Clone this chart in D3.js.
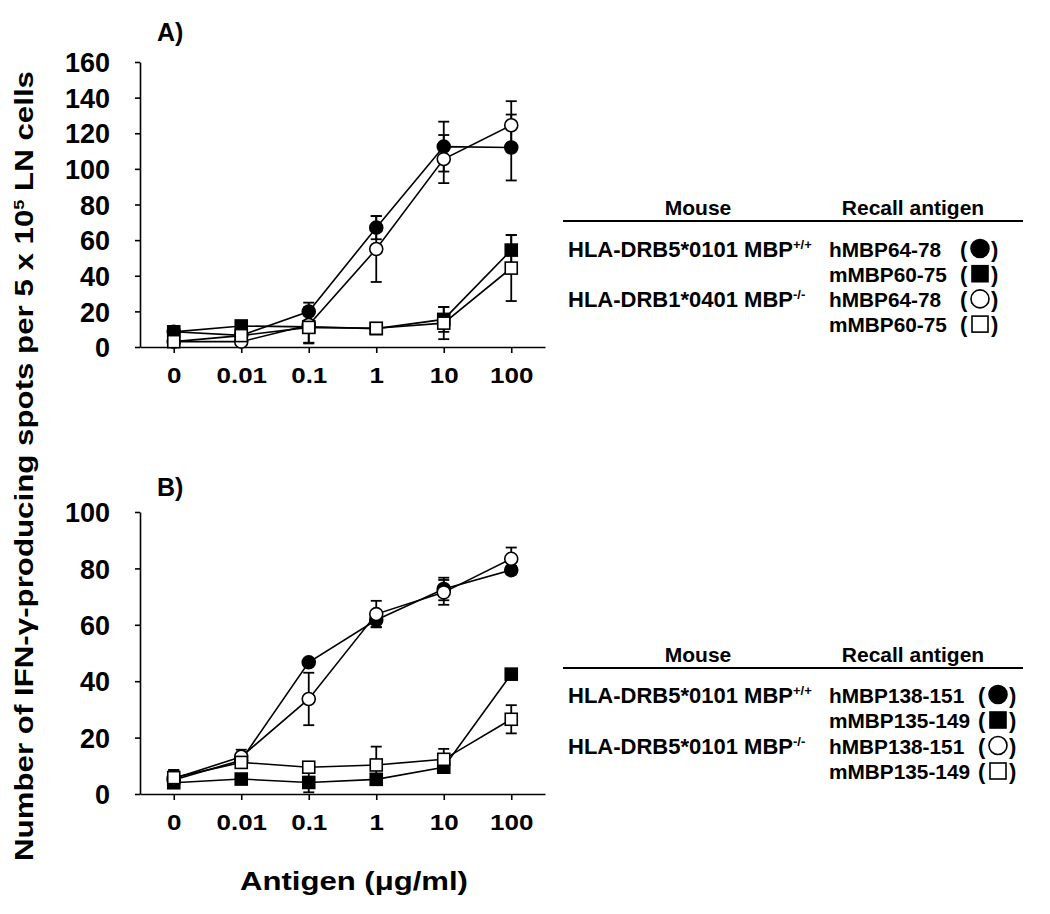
<!DOCTYPE html>
<html><head><meta charset="utf-8">
<script src="https://cdn.jsdelivr.net/npm/d3@7"></script>
<style>
body{margin:0;background:#fff}
text{font-family:"Liberation Sans",Arial,sans-serif;font-weight:bold;fill:#000}
</style>
</head><body>
<svg id="c" width="1050" height="914"></svg>
<script>
// ---------- data ----------
const doses = ["0","0.01","0.1","1","10","100"];
const yTicksA = [0,20,40,60,80,100,120,140,160];
const yTicksB = [0,20,40,60,80,100];

// Panel A (hMBP64-78 / mMBP60-75)
const aHumWT    = [8.6, 6.5, 19.9, 67, 112.5, 112];
const aHumWTErr = [0, 0, 5, 6.5, 14, 18.5];
const aMusWT    = [8.5, 11.8, 11.3, 10.3, 15.5, 54.4];
const aMusWTErr = [0, 0, 0, 3, 7, 8.5];
const aHumKO    = [3, 3, 12.4, 55, 105.5, 124.5];
const aHumKOErr = [0, 0, 10, 18.5, 13.5, 13.5];
const aMusKO    = [3, 6.4, 11, 10.5, 13.4, 44.3];
const aMusKOErr = [0, 0, 9, 0, 9, 18.5];

// Panel B (hMBP138-151 / mMBP135-149)
const bHumWT    = [5, 12, 46.7, 61.7, 72.7, 79.4];
const bHumWTErr = [0, 1.5, 0, 2.5, 4, 1.5];
const bMusWT    = [4, 5.3, 4.1, 5.2, 9.5, 42.5];
const bMusWTErr = [0, 1.5, 3.5, 1, 0, 0];
const bHumKO    = [5.5, 13.2, 33.7, 63.8, 71.5, 83.4];
const bHumKOErr = [3, 2.5, 9.3, 4.7, 4.4, 4];
const bMusKO    = [5.8, 11.2, 9.5, 10.3, 12.3, 26.5];
const bMusKOErr = [2.7, 2, 1, 6.5, 3.7, 5];

const legendAMice = [["HLA-DRB5*0101 MBP","+/+"], null, ["HLA-DRB1*0401 MBP","-/-"], null];
const legendAAntigens = ["hMBP64-78","mMBP60-75","hMBP64-78","mMBP60-75"];
const legendBMice = [["HLA-DRB5*0101 MBP","+/+"], null, ["HLA-DRB5*0101 MBP","-/-"], null];
const legendBAntigens = ["hMBP138-151","mMBP135-149","hMBP138-151","mMBP135-149"];
const markerKinds = ["filledCircle","filledSquare","openCircle","openSquare"];

// ---------- drawing ----------
const svg = d3.select("#c");
const x = d3.scalePoint().domain(doses).range([140, 545]).padding(0.5);

function marker(g, kind, cx, cy, size) {
  const filled = kind.startsWith("filled");
  if (kind.endsWith("Circle")) {
    g.append("circle").attr("cx", cx).attr("cy", cy).attr("r", size/2)
      .attr("fill", filled ? "#000" : "#fff").attr("stroke", "#000").attr("stroke-width", 1.6);
  } else {
    g.append("rect").attr("x", cx - size/2).attr("y", cy - size/2)
      .attr("width", size).attr("height", size)
      .attr("fill", filled ? "#000" : "#fff").attr("stroke", "#000").attr("stroke-width", 1.6);
  }
}

function panel(opts) {
  const y = d3.scaleLinear().domain([0, opts.max]).range([opts.y0, opts.y1]);
  const g = svg.append("g");

  // axes
  const ya = g.append("g").attr("transform", "translate(140,0)")
    .call(d3.axisLeft(y).tickValues(opts.ticks).tickSize(5).tickSizeOuter(0).tickPadding(25));
  ya.select(".domain").attr("stroke-width", 1.6);
  ya.selectAll(".tick line").attr("stroke-width", 1.6);
  ya.selectAll(".tick text").style("font-size", "27px").attr("dy", "0.36em");

  const xa = g.append("g").attr("transform", `translate(0,${opts.y0})`)
    .call(d3.axisBottom(x).tickSize(6).tickSizeOuter(0).tickPadding(14));
  xa.select(".domain").attr("stroke-width", 1.6);
  xa.selectAll(".tick line").attr("stroke-width", 1.6);
  xa.selectAll(".tick text").style("font-size", "22px").attr("dy", "0.71em")
    .attr("transform", "scale(1.18,1)");

  // panel label
  g.append("text").attr("x", 157).attr("y", opts.labelY).style("font-size", "25px").text(opts.label);

  const line = d3.line().x((d, i) => x(doses[i])).y(d => y(d));
  opts.series.forEach(s => {
    g.append("path").datum(s.v).attr("d", line).attr("fill", "none")
      .attr("stroke", "#000").attr("stroke-width", 1.6);
  });
  // error bars
  opts.series.forEach(s => {
    s.v.forEach((v, i) => {
      const e = s.e[i];
      if (!e) return;
      const cx = x(doses[i]);
      g.append("line").attr("x1", cx).attr("x2", cx).attr("y1", y(v - e)).attr("y2", y(v + e))
        .attr("stroke", "#000").attr("stroke-width", 1.8);
      [v - e, v + e].forEach(t => {
        g.append("line").attr("x1", cx - 5.5).attr("x2", cx + 5.5).attr("y1", y(t)).attr("y2", y(t))
          .attr("stroke", "#000").attr("stroke-width", 1.8);
      });
    });
  });
  // markers
  opts.order.forEach(k => {
    const s = opts.series[k];
    s.v.forEach((v, i) => marker(g, s.kind, x(doses[i]), y(v), s.kind.endsWith("Circle") ? 13 : 12));
  });

  // legend
  const L = opts.legend;
  g.append("line").attr("x1", 563).attr("x2", 1023).attr("y1", L.lineY).attr("y2", L.lineY)
    .attr("stroke", "#000").attr("stroke-width", 2);
  g.append("text").attr("x", 698).attr("y", L.lineY - 6).attr("text-anchor", "middle")
    .style("font-size", "21px").text("Mouse");
  g.append("text").attr("x", 913).attr("y", L.lineY - 6).attr("text-anchor", "middle")
    .style("font-size", "21px").text("Recall antigen");
  L.antigens.forEach((a, i) => {
    const by = L.row0 + i * L.rowStep;
    const m = L.mice[i];
    if (m) {
      const t = g.append("text").attr("x", 568).attr("y", by).style("font-size", "22px");
      t.append("tspan").text(m[0]);
      t.append("tspan").attr("dy", -8).style("font-size", "13px").text(m[1]);
    }
    g.append("text").attr("x", 829).attr("y", by).style("font-size", "20.8px").text(a);
    g.append("text").attr("x", L.parX).attr("y", by).style("font-size", "22px").text("(");
    marker(g, markerKinds[i], L.parX + 20, by - 8, markerKinds[i].endsWith("Circle") ? 18 : 16);
    g.append("text").attr("x", L.parX + 31).attr("y", by).style("font-size", "22px").text(")");
  });
}

panel({
  max: 160, y0: 347, y1: 62, ticks: yTicksA, label: "A)", labelY: 41,
  series: [
    {v: aHumWT, e: aHumWTErr, kind: "filledCircle"},
    {v: aMusWT, e: aMusWTErr, kind: "filledSquare"},
    {v: aHumKO, e: aHumKOErr, kind: "openCircle"},
    {v: aMusKO, e: aMusKOErr, kind: "openSquare"}
  ],
  order: [1, 0, 2, 3],
  legend: {lineY: 221, row0: 256.5, rowStep: 25.2, mice: legendAMice, antigens: legendAAntigens, parX: 960}
});

panel({
  max: 100, y0: 794, y1: 512, ticks: yTicksB, label: "B)", labelY: 496,
  series: [
    {v: bHumWT, e: bHumWTErr, kind: "filledCircle"},
    {v: bMusWT, e: bMusWTErr, kind: "filledSquare"},
    {v: bHumKO, e: bHumKOErr, kind: "openCircle"},
    {v: bMusKO, e: bMusKOErr, kind: "openSquare"}
  ],
  order: [0, 1, 2, 3],
  legend: {lineY: 668, row0: 702.5, rowStep: 25.5, mice: legendBMice, antigens: legendBAntigens, parX: 978}
});

// y title (stretched to match reference length)
const yt = svg.append("text").style("font-size", "26px").attr("text-anchor", "middle");
yt.append("tspan").text("Number of IFN-\u03B3-producing spots per 5 x 10");
yt.append("tspan").attr("dy", -9).style("font-size", "15px").text("5");
yt.append("tspan").attr("dy", 9).text(" LN cells");
const ytw = yt.node().getComputedTextLength();
yt.attr("transform", `translate(33,466) rotate(-90) scale(${790 / ytw},1)`);

// x title
const xt = svg.append("text").style("font-size", "25px").attr("text-anchor", "middle")
  .text("Antigen (\u03BCg/ml)");
const xtw = xt.node().getComputedTextLength();
xt.attr("transform", `translate(354,890) scale(${228 / xtw},1)`);
</script>
</body></html>
